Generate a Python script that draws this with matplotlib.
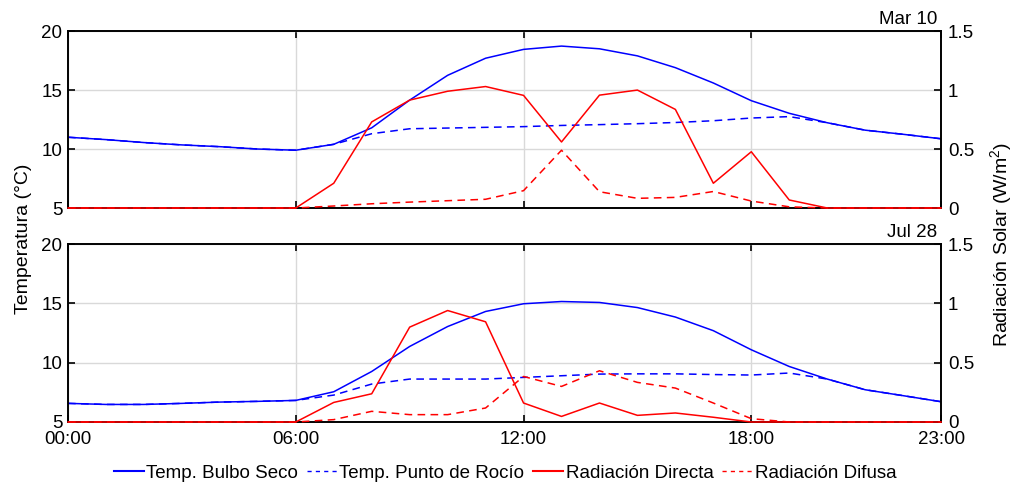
import matplotlib
matplotlib.use("Agg")
from matplotlib import pyplot as plt
from matplotlib.lines import Line2D

plt.rcParams['font.family'] = ['Liberation Sans', 'DejaVu Sans']
plt.rcParams['mathtext.default'] = 'regular'

hours = list(range(24))
hour_ticks = [0, 6, 12, 18, 23]
hour_labels = ['00:00', '06:00', '12:00', '18:00', '23:00']

# Mar 10
mar_bulbo = [11.0, 10.8, 10.55, 10.35, 10.2, 10.0, 9.9, 10.4, 11.8, 14.15, 16.25, 17.7,
             18.45, 18.73, 18.5, 17.9, 16.9, 15.6, 14.1, 13.03, 12.23, 11.6, 11.25, 10.87]
mar_rocio = [11.0, 10.8, 10.55, 10.35, 10.2, 10.0, 9.9, 10.4, 11.3, 11.72, 11.78, 11.84,
             11.9, 12.0, 12.07, 12.15, 12.25, 12.4, 12.63, 12.75, 12.23, 11.6, 11.25, 10.87]
mar_directa = [0, 0, 0, 0, 0, 0, 0, 0.21, 0.73, 0.915, 0.99, 1.03,
               0.955, 0.56, 0.957, 1.0, 0.836, 0.21, 0.477, 0.068, 0, 0, 0, 0]
mar_difusa = [0, 0, 0, 0, 0, 0, 0, 0.017, 0.036, 0.05, 0.062, 0.074,
              0.147, 0.49, 0.138, 0.082, 0.09, 0.14, 0.059, 0.01, 0, 0, 0, 0]

# Jul 28
jul_bulbo = [6.57, 6.48, 6.48, 6.57, 6.68, 6.74, 6.82, 7.55, 9.26, 11.37, 13.05, 14.32,
             14.97, 15.16, 15.08, 14.65, 13.85, 12.7, 11.09, 9.68, 8.62, 7.72, 7.22, 6.71]
jul_rocio = [6.57, 6.48, 6.48, 6.57, 6.68, 6.74, 6.82, 7.27, 8.2, 8.62, 8.62, 8.62,
             8.76, 8.9, 9.04, 9.06, 9.06, 9.0, 8.96, 9.13, 8.62, 7.72, 7.22, 6.71]
jul_directa = [0, 0, 0, 0, 0, 0, 0, 0.165, 0.238, 0.80, 0.94, 0.845,
               0.16, 0.047, 0.16, 0.056, 0.076, 0.04, 0, 0, 0, 0, 0, 0]
jul_difusa = [0, 0, 0, 0, 0, 0, 0, 0.02, 0.09, 0.062, 0.062, 0.118,
              0.384, 0.30, 0.432, 0.334, 0.286, 0.16, 0.028, 0, 0, 0, 0, 0]

panels = [
    ('Mar 10', mar_bulbo, mar_rocio, mar_directa, mar_difusa),
    ('Jul 28', jul_bulbo, jul_rocio, jul_directa, jul_difusa),
]

fig = plt.figure(figsize=(10.14, 4.86), dpi=100)
rects = [[0.0671, 0.572, 0.861, 0.364], [0.0671, 0.1317, 0.861, 0.366]]
dash = (5, 3.5)
fs = 13.5

for i, (title, bulbo, rocio, directa, difusa) in enumerate(panels):
    ax = fig.add_axes(rects[i])
    ax.plot(hours, rocio, color='blue', lw=1.1, dashes=dash)
    ax.plot(hours, bulbo, color='blue', lw=1.1)
    ax.set_xlim(0, 23)
    ax.set_ylim(5, 20)
    ax.set_yticks([5, 10, 15, 20])
    ax.set_xticks(hour_ticks)
    if i == 1:
        ax.set_xticklabels(hour_labels)
    else:
        ax.set_xticklabels([])
    ax.grid(True, color='#d9d9d9', lw=1.0)
    ax.tick_params(direction='in', length=5, width=1.2, top=True, labelsize=fs)
    ax.tick_params(axis='x', pad=6.5)
    ax.tick_params(axis='y', pad=4)
    for s in ax.spines.values():
        s.set_linewidth(1.2)
    ax.annotate(title, xy=(1, 1), xycoords='axes fraction', xytext=(-4, 7),
                textcoords='offset pixels', ha='right', va='baseline', fontsize=13.5)

    ax2 = ax.twinx()
    ax2.plot(hours, difusa, color='red', lw=1.1, dashes=dash, clip_on=False, zorder=3)
    ax2.plot(hours, directa, color='red', lw=1.1, clip_on=False, zorder=3)
    ax2.set_ylim(0, 1.5)
    ax2.set_yticks([0, 0.5, 1, 1.5])
    ax2.set_yticklabels(['0', '0.5', '1', '1.5'])
    ax2.tick_params(direction='in', length=5, width=1.2, labelsize=fs, pad=5)
    for s in ax2.spines.values():
        s.set_linewidth(1.2)

fig.text(0.023, 0.508, 'Temperatura (°C)', rotation=90, ha='center', va='center', fontsize=14)
fig.text(0.987, 0.498, 'Radiación Solar (W/m$^{2}$)', rotation=90, ha='center', va='center', fontsize=14)

handles = [
    Line2D([], [], color='blue', lw=1.5),
    Line2D([], [], color='blue', lw=1.0, dashes=(3, 3)),
    Line2D([], [], color='red', lw=1.5),
    Line2D([], [], color='red', lw=1.0, dashes=(3, 3)),
]
labels = ['Temp. Bulbo Seco', 'Temp. Punto de Rocío', 'Radiación Directa', 'Radiación Difusa']
fig.legend(handles, labels, loc='center', bbox_to_anchor=(0.498, 0.026), ncol=4, frameon=False,
           handlelength=1.6, handletextpad=0.15, columnspacing=0.45, fontsize=13.5)

fig.savefig('out.png', dpi=100)
